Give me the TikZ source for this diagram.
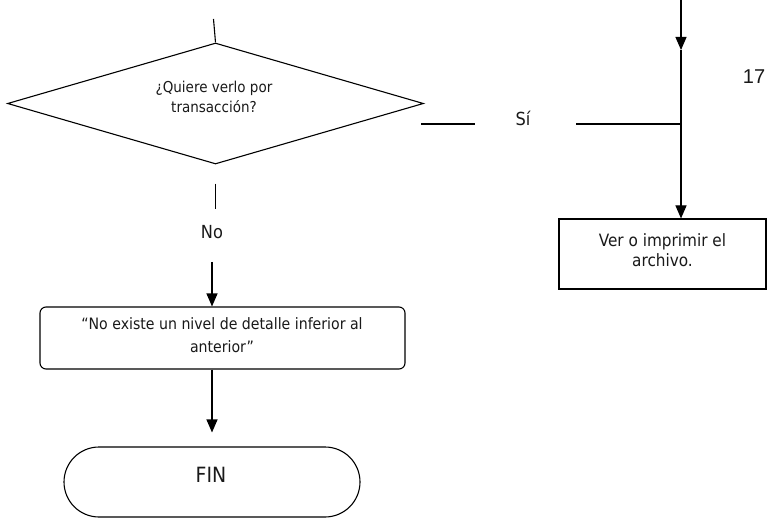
\documentclass[tikz,border=0pt]{standalone}
\usepackage{fontspec}
\setmainfont{DejaVu Sans Condensed}
\newfontfamily\numfont{Liberation Sans}
\usetikzlibrary{shapes.geometric,arrows.meta}
\begin{document}
\begin{tikzpicture}[x=1pt,y=-1pt,
  line width=1.1pt,
  arr/.style={-{Triangle[width=11pt,length=13pt]}},
  txt/.style={inner sep=0pt,align=center,text=black!90},
  shp/.style={draw,inner sep=0pt}]
\useasboundingbox (0,0) rectangle (768,521);
% decision
\node[shp,diamond,minimum width=416pt,minimum height=121pt] (dia) at (215.5,103.5) {};
\node[txt,font=\fontsize{15}{20}\selectfont] (diat) at (214,97) {¿Quiere verlo por\\transacción?};
\coordinate (dtop) at (213.5,19);
\draw (dtop) -- (dia.north);
% No branch
\node[txt,font=\fontsize{18}{20}\selectfont] (no) at (212,232) {No};
\node[shp,rectangle,rounded corners=6pt,minimum width=365pt,minimum height=62pt] (msg) at (222.5,338) {};
\node[txt,font=\fontsize{15.7}{23}\selectfont] (msgt) at (222,335.5) {“No existe un nivel de detalle inferior al\\anterior”};
\node[shp,rectangle,rounded corners=35pt,minimum width=296pt,minimum height=70pt] (fin) at (212,482) {};
\node[txt,font=\fontsize{21}{24}\selectfont] (fint) at (211,475) {FIN};
\draw ([yshift=-19pt]dia.south) -- ([yshift=-44pt]dia.south);
\draw[arr] ([yshift=-30pt]no.center) -- (no |- msg.north);
\draw[arr,shorten >=14pt] (no |- msg.south) -- (no |- fin.north);
% Si branch
\node[txt,font=\fontsize{18}{20}\selectfont] (si) at (523,118) {Sí};
\coordinate (sil) at (421,124);
\coordinate (sir) at (576,124);
\coordinate (vtop) at (681,0);
\coordinate (vmid) at (681,50);
\coordinate (j) at (681,124);
\node[shp,rectangle,minimum width=207pt,minimum height=70pt] (ver) at (662.5,254) {};
\node[txt,font=\fontsize{17}{20}\selectfont] (vert) at (662.5,250) {Ver o imprimir el\\archivo.};
\draw (sil) -- (475,124);
\draw (sir) -- (j);
\draw[arr] (vtop) -- (vmid);
\draw (vmid) -- (j);
\draw[arr] (j) -- (j |- ver.north);
\node[txt,font=\numfont\fontsize{20}{22}\selectfont] (pg) at (754,77) {17};
\end{tikzpicture}
\end{document}
